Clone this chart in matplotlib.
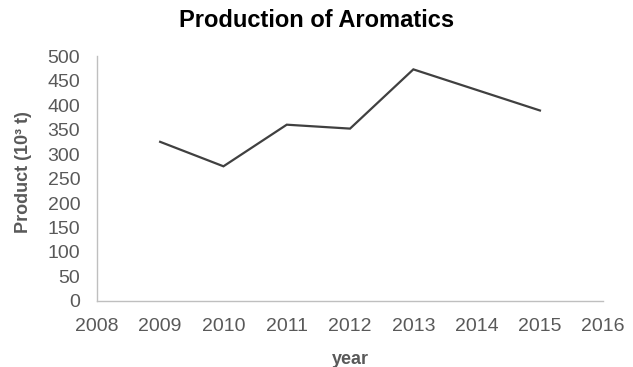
import matplotlib
matplotlib.use("Agg")
import matplotlib.pyplot as plt

years = [2009, 2010, 2011, 2012, 2013, 2014, 2015]
product = [325, 275, 360, 352, 473, 431, 389]
x_ticks = [2008, 2009, 2010, 2011, 2012, 2013, 2014, 2015, 2016]
y_ticks = [0, 50, 100, 150, 200, 250, 300, 350, 400, 450, 500]

plt.rcParams['font.family'] = ['Liberation Sans', 'DejaVu Sans']

fig = plt.figure(figsize=(6.33, 3.67), dpi=100)
ax = fig.add_axes([0.153, 0.180, 0.800, 0.667])

ax.plot(years, product, color='#404040', linewidth=1.6, solid_joinstyle='miter')

ax.set_xlim(2008, 2016)
ax.set_ylim(0, 500)
ax.set_xticks(x_ticks)
ax.set_yticks(y_ticks)
ax.tick_params(axis='both', length=0, labelsize=14, colors='#595959', pad=12)

for side in ('top', 'right'):
    ax.spines[side].set_visible(False)
for side in ('left', 'bottom'):
    ax.spines[side].set_color('#BFBFBF')
    ax.spines[side].set_linewidth(1.0)

ax.set_xlabel('year', fontsize=13, fontweight='bold', color='#595959')
ax.set_ylabel('Product (10³ t)', fontsize=13, fontweight='bold', color='#595959')
ax.xaxis.set_label_coords(0.5, -0.204)
ax.yaxis.set_label_coords(-0.128, 0.527)
fig.text(0.5, 0.943, 'Production of Aromatics', ha='center', va='center',
         fontsize=17, fontweight='bold', color='black')

fig.savefig('out.png', dpi=100)
